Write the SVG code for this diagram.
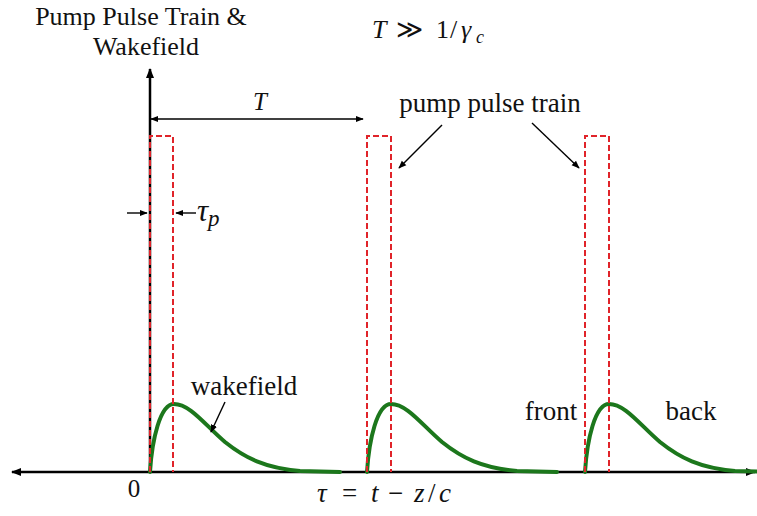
<svg xmlns="http://www.w3.org/2000/svg" width="757" height="516" viewBox="0 0 757 516">
<style>
.t{font-family:"Liberation Serif","Times New Roman",serif;fill:#111;}
.m{font-family:"Liberation Serif","Times New Roman",serif;font-style:italic;fill:#111;}
.n{font-style:normal;}
.axis{stroke:#000;stroke-width:2.5;fill:none;}
.thin{stroke:#000;stroke-width:1.4;fill:none;}
.pulse{stroke:#e0242a;stroke-width:2;stroke-dasharray:6,3;fill:none;}
.wake{stroke:#1c771c;stroke-width:4;fill:none;stroke-linecap:round;}
</style>
<defs>
<marker id="ah" viewBox="0 0 10 10" refX="9" refY="5" markerWidth="10" markerHeight="10" markerUnits="userSpaceOnUse" orient="auto-start-reverse">
<path d="M0,1 L10,5 L0,9 Z" fill="#000"/>
</marker>
<marker id="ahs" viewBox="0 0 10 10" refX="9" refY="5" markerWidth="8" markerHeight="8" markerUnits="userSpaceOnUse" orient="auto-start-reverse">
<path d="M0,1 L10,5 L0,9 Z" fill="#000"/>
</marker>
<path id="wk" d="M0,0 C2,-32 10,-68 24,-68 C40,-68 55,-47 75,-30 C95,-14 115,-4 150,-1 L190,0"/>
</defs>
<g id="title">
<text class="t" x="141" y="25" font-size="26" text-anchor="middle">Pump Pulse Train &amp;</text>
<text class="t" x="146" y="55" font-size="26" text-anchor="middle">Wakefield</text>
</g>
<g id="condition">
<text class="m" y="38" font-size="26"><tspan x="372">T</tspan><tspan class="n" x="396">≫</tspan><tspan class="n" x="436">1</tspan><tspan class="n" x="450">/</tspan><tspan x="461">γ</tspan><tspan font-size="18" x="476" dy="5">c</tspan></text>
</g>
<g id="axes">
<line class="axis" x1="150" y1="472" x2="150" y2="69" marker-end="url(#ah)"/>
<line class="axis" x1="150" y1="472" x2="12" y2="472" marker-end="url(#ah)"/>
<line class="axis" x1="150" y1="472" x2="755" y2="472" marker-end="url(#ah)"/>
<text class="t" x="134" y="497" font-size="25" text-anchor="middle">0</text>
<text class="m" y="502" font-size="27"><tspan x="317">τ</tspan><tspan class="n" x="342">=</tspan><tspan x="371">t</tspan><tspan class="n" x="388">−</tspan><tspan x="414">z</tspan><tspan class="n" x="428">/</tspan><tspan x="439">c</tspan></text>
</g>
<g id="wakefields">
<use href="#wk" class="wake" transform="translate(150,472)"/>
<use href="#wk" class="wake" transform="translate(367,472)"/>
<use href="#wk" class="wake" transform="translate(585,472)"/>
</g>
<g id="pulses">
<path class="pulse" d="M150,472 V136 H173 V472"/>
<path class="pulse" d="M367,472 V136 H391 V472"/>
<path class="pulse" d="M585,472 V136 H609 V472"/>
</g>
<g id="connectors">
<line class="thin" x1="151" y1="119" x2="363" y2="119" marker-start="url(#ahs)" marker-end="url(#ahs)"/>
<line class="thin" x1="127" y1="213" x2="147" y2="213" marker-end="url(#ahs)"/>
<line class="thin" x1="196" y1="213" x2="176" y2="213" marker-end="url(#ahs)"/>
<line class="thin" x1="442" y1="125" x2="399" y2="168" marker-end="url(#ahs)"/>
<line class="thin" x1="532" y1="123" x2="579" y2="168" marker-end="url(#ahs)"/>
<line class="thin" x1="225" y1="402" x2="211" y2="432" marker-end="url(#ahs)"/>
</g>
<g id="labels">
<text class="m" x="260" y="110" font-size="25" text-anchor="middle">T</text>
<text class="m" x="197" y="221" font-size="31">τ<tspan font-size="23" dy="5">p</tspan></text>
<text class="t" x="490" y="112" font-size="27" text-anchor="middle">pump pulse train</text>
<text class="t" x="244" y="395" font-size="27" text-anchor="middle">wakefield</text>
<text class="t" x="551" y="420" font-size="27" text-anchor="middle">front</text>
<text class="t" x="691" y="420" font-size="27" text-anchor="middle">back</text>
</g>
</svg>
